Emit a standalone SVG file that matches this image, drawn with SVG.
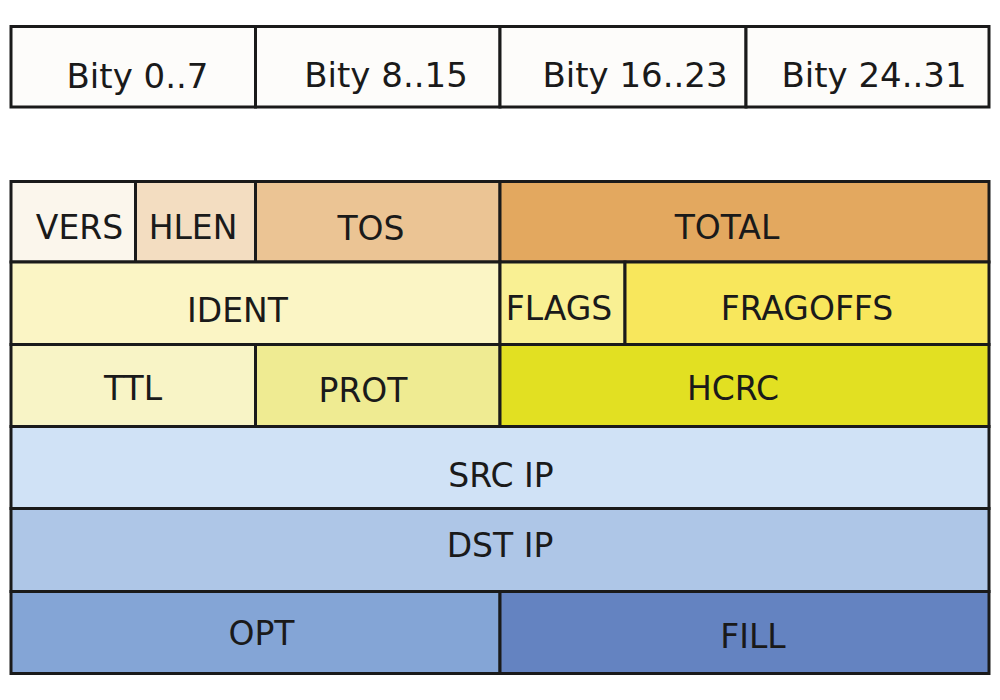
<svg xmlns="http://www.w3.org/2000/svg" width="1000" height="700" viewBox="0 0 1000 700">
<style>
.c{stroke:#1a1a1a;stroke-width:3}
.t{font-family:"DejaVu Sans",sans-serif;font-size:33px;fill:#1a1a1a;text-anchor:middle}
.b{font-size:34px}
</style>
<rect width="1000" height="700" fill="#ffffff"/>
<g id="header">
<g id="h0"><rect class="c" x="11" y="26.5" width="244.5" height="80.5" fill="#fdfcfa"/><text class="t b" x="137.5" y="87.5">Bity 0..7</text></g>
<g id="h1"><rect class="c" x="255.5" y="26.5" width="244.5" height="80.5" fill="#fdfcfa"/><text class="t b" x="386" y="87">Bity 8..15</text></g>
<g id="h2"><rect class="c" x="500" y="26.5" width="246" height="80.5" fill="#fdfcfa"/><text class="t b" x="635" y="87">Bity 16..23</text></g>
<g id="h3"><rect class="c" x="746" y="26.5" width="243" height="80.5" fill="#fdfcfa"/><text class="t b" x="874" y="87">Bity 24..31</text></g>
</g>
<g id="table">
<g id="vers"><rect class="c" x="11" y="181.5" width="124.5" height="80.5" fill="#fbf6ec"/><text class="t" x="79.5" y="239">VERS</text></g>
<g id="hlen"><rect class="c" x="135.5" y="181.5" width="120" height="80.5" fill="#f3ddc1"/><text class="t" x="193" y="239">HLEN</text></g>
<g id="tos"><rect class="c" x="255.5" y="181.5" width="244.5" height="80.5" fill="#ebc494"/><text class="t" x="371" y="239.5">TOS</text></g>
<g id="total"><rect class="c" x="500" y="181.5" width="489" height="80.5" fill="#e3a85f"/><text class="t" x="727" y="238.5">TOTAL</text></g>
<g id="ident"><rect class="c" x="11" y="262" width="489" height="82.5" fill="#fbf5c5"/><text class="t" x="237.5" y="321.5">IDENT</text></g>
<g id="flags"><rect class="c" x="500" y="262" width="125" height="82.5" fill="#f9f093"/><text class="t" x="559" y="320">FLAGS</text></g>
<g id="fragoffs"><rect class="c" x="625" y="262" width="364" height="82.5" fill="#f8e75c"/><text class="t" x="807" y="320">FRAGOFFS</text></g>
<g id="ttl"><rect class="c" x="11" y="344.5" width="244.5" height="82" fill="#f8f4c6"/><text class="t" x="133" y="400">TTL</text></g>
<g id="prot"><rect class="c" x="255.5" y="344.5" width="244.5" height="82" fill="#efeb92"/><text class="t" x="363" y="402">PROT</text></g>
<g id="hcrc"><rect class="c" x="500" y="344.5" width="489" height="82" fill="#e2e022"/><text class="t" x="733" y="400">HCRC</text></g>
<g id="srcip"><rect class="c" x="11" y="426.5" width="978" height="82" fill="#d0e2f6"/><text class="t" x="501" y="487">SRC IP</text></g>
<g id="dstip"><rect class="c" x="11" y="508.5" width="978" height="83" fill="#aec6e7"/><text class="t" x="500" y="557">DST IP</text></g>
<g id="opt"><rect class="c" x="11" y="591.5" width="489" height="82" fill="#84a5d6"/><text class="t" x="261.5" y="645">OPT</text></g>
<g id="fill"><rect class="c" x="500" y="591.5" width="489" height="82" fill="#6483c1"/><text class="t" x="753" y="648">FILL</text></g>
</g>
<g id="connectors"/>
</svg>
